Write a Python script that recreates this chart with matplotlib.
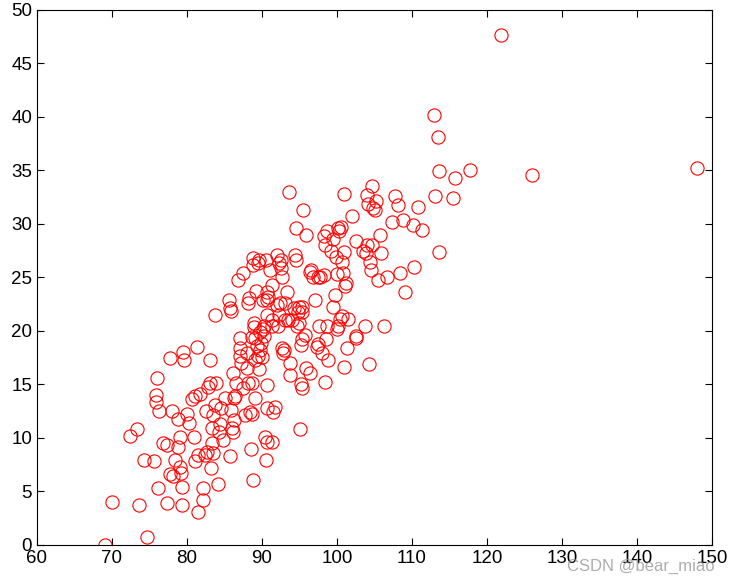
import numpy as np
import matplotlib.pyplot as plt

plt.rcParams['font.family'] = ['Liberation Sans', 'DejaVu Sans']

# 散点数据 (x, y)
x = [69.1, 70.0, 73.3, 72.4, 73.6, 74.7, 74.3, 75.6, 76.1, 75.9, 75.9, 76.0, 76.3, 76.8,
     77.3, 77.3, 77.7, 78.0, 77.7, 78.1, 78.4, 78.8, 79.1, 78.8, 79.1, 79.2, 79.3, 79.3,
     79.6, 79.5, 80.0, 80.3, 80.7, 81.1, 81.5, 81.3, 80.9, 81.1, 81.5, 81.7, 82.1, 82.1,
     82.4, 82.7, 82.5, 82.8, 83.1, 83.1, 83.2, 83.3, 83.3, 83.5, 83.5, 83.7, 83.7, 83.9,
     84.1, 84.3, 84.4, 84.5, 84.8, 85.1, 85.6, 85.7, 85.9, 85.7, 85.9, 86.0, 86.1, 86.1,
     86.3, 86.3, 86.4, 86.5, 86.8, 87.1, 87.1, 87.1, 87.2, 87.5, 87.5, 87.7, 88.0, 88.0,
     88.1, 88.3, 88.1, 88.4, 88.5, 88.7, 88.7, 88.7, 88.8, 88.8, 88.8, 88.9, 88.9, 89.1,
     89.1, 89.1, 89.2, 89.3, 89.5, 89.5, 89.6, 89.6, 89.7, 89.7, 89.9, 90.0, 90.1, 90.1,
     90.3, 90.3, 90.4, 90.5, 90.5, 90.7, 90.7, 90.7, 90.7, 90.7, 90.7, 90.8, 91.1, 91.3,
     91.3, 91.3, 91.3, 91.5, 91.7, 92.0, 92.0, 92.1, 92.3, 92.3, 92.4, 92.5, 92.5, 92.7,
     92.7, 92.8, 92.9, 93.1, 93.1, 93.3, 93.5, 93.6, 93.7, 93.7, 94.0, 94.3, 94.4, 94.5,
     94.5, 94.7, 94.8, 94.9, 94.9, 95.1, 95.2, 95.2, 95.3, 95.3, 95.3, 95.3, 95.5, 95.7,
     95.9, 95.9, 96.4, 96.4, 96.5, 96.8, 97.1, 97.3, 97.5, 97.5, 97.6, 97.7, 98.0, 98.3,
     98.3, 98.4, 98.4, 98.5, 98.7, 98.7, 98.8, 99.2, 99.5, 99.5, 99.7, 99.9, 100.0, 100.0,
     100.1, 100.1, 100.3, 100.4, 100.5, 100.7, 100.7, 100.8, 100.9, 100.9, 100.9, 101.1,
     101.2, 101.3, 101.5, 102.0, 102.5, 102.5, 102.5, 103.5, 103.7, 103.9, 104.0, 104.0,
     104.1, 104.3, 104.4, 104.5, 104.7, 104.7, 104.8, 105.1, 105.2, 105.5, 105.7, 105.9,
     106.3, 106.7, 107.4, 107.7, 108.1, 108.4, 108.8, 109.1, 110.1, 110.3, 110.8, 111.3,
     112.9, 113.1, 113.5, 113.6, 113.6, 115.5, 115.7, 117.7, 121.9, 126.0, 148.0]
y = [0.0, 4.0, 10.8, 10.2, 3.7, 0.7, 7.9, 7.8, 5.3, 13.4, 14.0, 15.6, 12.5, 9.5,
     3.9, 9.3, 17.5, 12.5, 6.6, 6.4, 7.9, 11.8, 10.1, 9.2, 7.3, 6.7, 5.4, 3.7,
     17.3, 18.0, 12.2, 11.4, 13.6, 13.9, 3.1, 18.5, 10.1, 7.8, 8.4, 14.1, 4.2, 5.3,
     8.4, 8.7, 12.5, 14.8, 17.3, 15.1, 7.2, 9.5, 10.9, 12.1, 8.6, 13.1, 21.5, 15.1,
     5.7, 10.6, 11.3, 12.8, 9.8, 13.7, 22.9, 22.1, 21.9, 8.3, 12.6, 10.9, 10.6, 16.1,
     13.7, 11.7, 13.9, 15.1, 24.8, 18.4, 17.7, 19.3, 17.0, 14.7, 25.4, 12.1, 17.9, 16.5,
     22.6, 23.1, 15.1, 12.4, 9.0, 12.2, 15.1, 19.4, 6.1, 26.8, 26.2, 20.4, 20.7, 19.3,
     17.3, 13.7, 23.7, 18.6, 17.7, 26.3, 16.4, 26.6, 19.9, 18.2, 18.9, 17.6, 20.2, 22.9,
     19.5, 20.5, 10.1, 7.9, 26.6, 9.6, 12.8, 14.9, 22.9, 21.5, 23.6, 23.2, 25.7, 9.6,
     21.0, 20.5, 24.3, 12.4, 12.9, 27.1, 22.4, 20.5, 26.3, 21.5, 22.6, 26.6, 25.9, 25.0,
     18.4, 17.9, 18.2, 21.0, 22.6, 23.6, 21.0, 33.0, 17.0, 15.9, 21.0, 22.1, 27.1, 26.6,
     29.6, 20.5, 21.8, 22.2, 20.7, 10.8, 15.0, 18.7, 21.8, 22.2, 19.2, 14.7, 31.3, 19.6,
     29.0, 16.5, 16.1, 25.5, 25.7, 25.0, 22.9, 18.5, 25.0, 18.8, 20.5, 25.0, 17.9, 28.9,
     25.2, 15.2, 28.0, 19.2, 29.3, 20.5, 17.3, 27.5, 22.2, 28.6, 23.4, 26.9, 20.2, 25.3,
     20.5, 29.6, 29.3, 21.1, 29.7, 26.4, 21.4, 25.4, 27.4, 32.8, 16.6, 24.2,
     24.5, 18.4, 21.1, 30.7, 19.3, 19.5, 28.4, 27.5, 20.5, 27.3, 28.0, 32.7,
     31.9, 16.9, 26.4, 25.7, 33.5, 28.0, 31.5, 31.3, 32.1, 24.8, 29.0, 27.3,
     20.5, 25.0, 30.2, 32.6, 31.8, 25.4, 30.4, 23.6, 29.9, 26.0, 31.6, 29.4,
     40.2, 32.6, 38.1, 34.9, 27.4, 32.4, 34.3, 35.0, 47.6, 34.6, 35.2]

xticks = [60, 70, 80, 90, 100, 110, 120, 130, 140, 150]
yticks = [0, 5, 10, 15, 20, 25, 30, 35, 40, 45, 50]

fig = plt.figure(figsize=(7.31, 5.77), dpi=100)
ax = fig.add_axes([0.0506, 0.0555, 0.9234, 0.9275])

ax.plot(x, y, 'o', markerfacecolor='none', markeredgecolor='red',
        markersize=9.5, markeredgewidth=0.8, linestyle='none')

ax.set_xlim(60, 150)
ax.set_ylim(0, 50)
ax.set_xticks(xticks)
ax.set_yticks(yticks)
ax.tick_params(direction='in', top=True, right=True, labelsize=13.5, length=5, width=0.8)
for s in ax.spines.values():
    s.set_linewidth(0.8)

# 水印
fig.text(0.978, 0.006, 'CSDN @bear_miao', ha='right', va='bottom',
         fontsize=12, color='#999999', alpha=0.8)

fig.savefig('out.png', dpi=100)
